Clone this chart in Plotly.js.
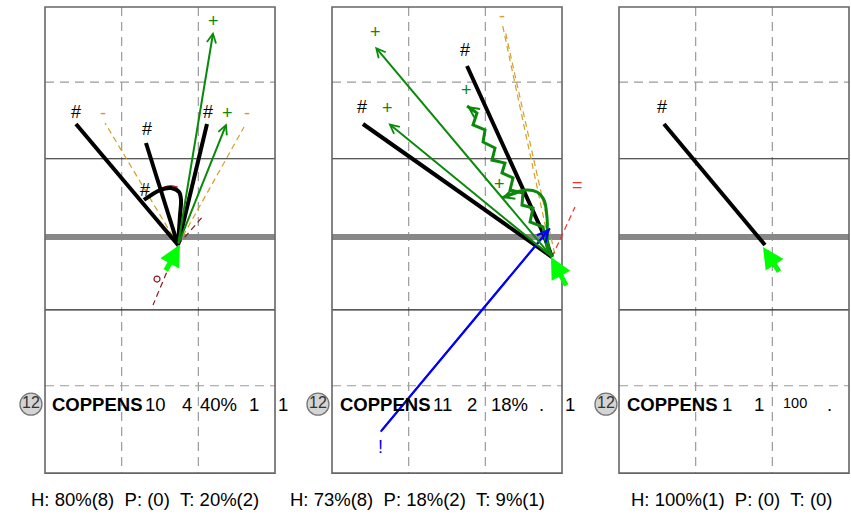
<!DOCTYPE html>
<html><head><meta charset="utf-8">
<script src="https://cdn.plot.ly/plotly-3.0.1.min.js"></script>
<style>html,body{margin:0;padding:0;background:#fff;}#chart{width:851px;height:528px;}</style>
</head><body><div id="chart"></div>
<script>
// ---------- DATA (panel-local units: frame is 30 wide, 10 units per column) ----------
const frameW = 30, frameH = 60.8;
const vDashed = [10, 20];
const hDashed = [9.8, 49.4];
const hSolid = [19.8, 39.5];
const halfway = 30;

// Panel 1
const p1ShotsX = [[17.35, 4.04], [17.35, 13.17], [17.35, 17.61, 17.74, 17.48, 16.43, 15.0, 12.91], [17.35, 21.13]];
const p1ShotsY = [[31.04, 15.26], [31.04, 17.74], [31.04, 27.13, 25.17, 24.13, 23.61, 23.87, 25.17], [31.04, 15.26]];
const p1PassX = [[17.35, 21.95], [17.35, 23.70]];
const p1PassY = [[31.04, 3.22], [31.04, 15.17]];
const p1GoldX = [[17.35, 7.83], [17.35, 25.96]];
const p1GoldY = [[31.04, 15.13], [31.04, 15.65]];
const p1DarkRedX = [[17.35, 14.09], [17.35, 20.74]];
const p1DarkRedY = [[31.04, 38.87], [31.04, 27.13]];
const p1RingX = [14.61];
const p1RingY = [35.48];
const p1RedX = [[15.3, 16.4, 17.3]];
const p1RedY = [[23.6, 23.3, 23.5]];
const p1CarryX = [15.65, 17.6];
const p1CarryY = [34.56, 31.0];
const p1LabelText = ['#', '#', '#', '#', '+', '+', '-', '-'];
const p1LabelX = [4.04, 13.26, 13.04, 21.26, 22.04, 23.83, 7.52, 26.39];
const p1LabelY = [13.69, 15.95, 23.87, 13.69, 1.79, 13.87, 13.78, 13.78];

// Panel 2
const p2ShotsX = [[28.69, 4.04], [28.69, 27.52, 17.61]];
const p2ShotsY = [[32.61, 15.26], [32.61, 29.48, 7.70]];
const p2PassX = [[28.69, 5.61], [28.69, 7.35]];
const p2PassY = [[32.61, 5.18], [32.61, 15.17]];
const p2WavyX = [28.69, 28.04, 27.52, 25.83, 26.22, 24.78, 24.91, 23.22, 23.61, 22.17, 22.56, 20.87, 21.26, 19.70, 19.96, 18.39, 18.91, 17.61];
const p2WavyY = [32.61, 31.30, 28.69, 28.04, 26.22, 25.83, 24.26, 23.87, 22.30, 21.65, 20.35, 19.96, 18.39, 17.61, 16.04, 15.39, 13.83, 12.91];
const p2HookX = [28.69, 28.17, 28.04, 27.65, 26.74, 25.17, 22.17];
const p2HookY = [32.61, 31.04, 27.39, 25.17, 24.13, 23.87, 24.91];
const p2GoldX = [[28.69, 22.25], [29.05, 22.65]];
const p2GoldY = [[32.61, 2.40], [32.20, 3.40]];
const p2RedX = [[28.69, 31.69]];
const p2RedY = [[32.61, 26.09]];
const p2BlueX = [6.35, 28.43];
const p2BlueY = [55.39, 28.87];
const p2CarryX = [30.65, 28.56];
const p2CarryY = [36.5, 32.6];
const p2LabelText = ['+', '#', '#', '+', '+', '+', '-', '=', '!'];
const p2LabelX = [5.61, 17.35, 3.87, 7.22, 17.48, 21.91, 22.21, 32.0, 6.39];
const p2LabelY = [3.3, 5.61, 13.08, 13.21, 10.83, 23.13, 1.13, 23.22, 57.35];

// Panel 3
const p3ShotsX = [[19.04, 5.87]];
const p3ShotsY = [[31.04, 15.26]];
const p3CarryX = [21.0, 18.78];
const p3CarryY = [34.7, 31.3];
const p3LabelText = ['#'];
const p3LabelX = [5.56];
const p3LabelY = [13.08];

// Stat rows
const playerNumber = '12';
const playerName = 'COPPENS';
const rowY = 51.8;
const badgeX = [-1.83, -1.83, -1.70];
const nameX = [0.65, 0.78, 0.78];
const p1RowText = ['10', '4', '40%', '1', '1'];
const p1RowX = [14.45, 18.52, 22.69, 27.26, 31.04];
const p2RowText = ['11', '2', '18%', '.', '1'];
const p2RowX = [14.45, 18.26, 23.09, 27.26, 31.04];
const p3RowText = ['1', '1', '100', '.'];
const p3RowX = [14.09, 18.26, 22.96, 27.39];
const p3RowSmall = [false, false, true, false];

const footerText = ['H: 80%(8)  P: (0)  T: 20%(2)', 'H: 73%(8)  P: 18%(2)  T: 9%(1)', 'H: 100%(1)  P: (0)  T: (0)'];
const footerX = [13.0, 11.2, 14.7];
const footerY = 64.2;

// ---------- STYLE / LAYOUT ----------
const K = 7.667;                 // pixels per unit
const frameLeftPx = [45, 332, 619];
const frameTopPx = 7;
const W = 851, H = 528;
const axes = ['x', 'x2', 'x3'];
const FONT = 'Liberation Sans, Arial, Helvetica, sans-serif';
const GREEN = '#0a8a0a', GOLD = '#d2a02a', RED = '#ff2a2a', DARKRED = '#8b1a1a', BLUE = '#0000ff', BRIGHT = '#00ff00';
const labelColor = {'#': '#000000', '+': GREEN, '-': GOLD, '=': RED, '!': BLUE};

const traces = [];
const shapes = [];
const annotations = [];

function addPaths(xs, ys, axis, line, shape) {
  xs.forEach((px, i) => traces.push({
    type: 'scatter', mode: 'lines', x: px, y: ys[i], xaxis: axis, yaxis: 'y',
    line: Object.assign({shape: shape || 'linear'}, line), hoverinfo: 'skip', showlegend: false
  }));
}
function arrow(axis, x0, y0, x1, y1, color, width, head, size) {
  annotations.push({xref: axis, yref: 'y', axref: axis, ayref: 'y', x: x1, y: y1, ax: x0, ay: y0,
    text: '', showarrow: true, arrowhead: head, arrowsize: size, arrowwidth: width, arrowcolor: color,
    standoff: 0, startstandoff: 0});
}
function label(axis, t, x, y, size, color, bold, xanchor) {
  annotations.push({xref: axis, yref: 'y', x: x, y: y, text: bold ? '<b>' + t + '</b>' : t, showarrow: false,
    xanchor: xanchor || 'center', yanchor: 'middle',
    font: {family: FONT, size: size, color: color}});
}
function line(axis, x0, y0, x1, y1, color, width, dash) {
  shapes.push({type: 'line', xref: axis, yref: 'y', x0, y0, x1, y1, layer: 'below',
    line: {color, width, dash: dash || 'solid'}});
}

// pitch frames
axes.forEach(ax => {
  vDashed.forEach(v => line(ax, v, 0, v, frameH, '#9a9a9a', 1.2, '9px,6px'));
  hDashed.forEach(h => line(ax, 0, h, frameW, h, '#9a9a9a', 1.2, '9px,6px'));
  hSolid.forEach(h => line(ax, 0, h, frameW, h, '#222', 1.1));
  line(ax, 0, halfway, frameW, halfway, '#888', 6);
  shapes.push({type: 'rect', xref: ax, yref: 'y', x0: 0, y0: 0, x1: frameW, y1: frameH, layer: 'below',
    line: {color: '#666', width: 1.6}});
});

const dashed = {dash: '6px,4px', width: 1.2};

// Panel 1
addPaths(p1GoldX, p1GoldY, 'x', Object.assign({color: GOLD}, dashed));
addPaths(p1DarkRedX, p1DarkRedY, 'x', Object.assign({color: DARKRED}, dashed));
addPaths(p1RedX, p1RedY, 'x', {color: '#cc2222', width: 1.5}, 'spline');
traces.push({type: 'scatter', mode: 'markers', x: p1RingX, y: p1RingY, xaxis: 'x', yaxis: 'y',
  marker: {symbol: 'circle-open', size: 6, color: DARKRED, line: {width: 1.2}}, hoverinfo: 'skip'});
addPaths(p1ShotsX, p1ShotsY, 'x', {color: '#000', width: 4}, 'spline');
p1PassX.forEach((px, i) => arrow('x', px[0], p1PassY[i][0], px[1], p1PassY[i][1], GREEN, 2, 5, 0.9));
p1LabelText.forEach((t, i) => label('x', t, p1LabelX[i], p1LabelY[i], 18, labelColor[t]));
arrow('x', p1CarryX[0], p1CarryY[0], p1CarryX[1], p1CarryY[1], BRIGHT, 5, 2, 0.85);

// Panel 2
addPaths(p2GoldX, p2GoldY, 'x2', Object.assign({color: GOLD}, dashed));
addPaths(p2RedX, p2RedY, 'x2', Object.assign({color: RED}, dashed));
addPaths(p2ShotsX, p2ShotsY, 'x2', {color: '#000', width: 4});
addPaths([p2WavyX], [p2WavyY], 'x2', {color: GREEN, width: 3});
addPaths([p2HookX], [p2HookY], 'x2', {color: GREEN, width: 3}, 'spline');
addPaths([p2BlueX], [p2BlueY], 'x2', {color: BLUE, width: 2});
let n = p2WavyX.length;
arrow('x2', p2WavyX[n - 2], p2WavyY[n - 2], p2WavyX[n - 1], p2WavyY[n - 1], GREEN, 2.5, 5, 0.8);
n = p2HookX.length;
arrow('x2', p2HookX[n - 2], p2HookY[n - 2], p2HookX[n - 1], p2HookY[n - 1], GREEN, 2.5, 5, 0.8);
arrow('x2', p2BlueX[0], p2BlueY[0], p2BlueX[1], p2BlueY[1], BLUE, 2, 5, 1.1);
p2PassX.forEach((px, i) => arrow('x2', px[0], p2PassY[i][0], px[1], p2PassY[i][1], GREEN, 2, 5, 0.9));
p2LabelText.forEach((t, i) => label('x2', t, p2LabelX[i], p2LabelY[i], 18, labelColor[t]));
arrow('x2', p2CarryX[0], p2CarryY[0], p2CarryX[1], p2CarryY[1], BRIGHT, 5, 2, 0.85);

// Panel 3
addPaths(p3ShotsX, p3ShotsY, 'x3', {color: '#000', width: 4});
p3LabelText.forEach((t, i) => label('x3', t, p3LabelX[i], p3LabelY[i], 18, labelColor[t]));
arrow('x3', p3CarryX[0], p3CarryY[0], p3CarryX[1], p3CarryY[1], BRIGHT, 5, 2, 0.85);

// stat rows
axes.forEach((ax, i) => {
  traces.push({type: 'scatter', mode: 'markers+text', x: [badgeX[i]], y: [rowY], xaxis: ax, yaxis: 'y',
    marker: {symbol: 'circle', size: 22, color: '#d4d4d4', line: {color: '#777', width: 1.3}},
    text: [playerNumber], textposition: 'middle center',
    textfont: {family: FONT, size: 16, color: '#333'}, hoverinfo: 'skip', cliponaxis: false});
  label(ax, playerName, nameX[i], rowY, 18.5, '#000', true, 'left');
  label(ax, footerText[i].replace(/ /g, '\u00a0'), footerX[i], footerY, 18.5, '#000');
});
p1RowText.forEach((t, i) => label('x', t, p1RowX[i], rowY, 18.5, '#000'));
p2RowText.forEach((t, i) => label('x2', t, p2RowX[i], rowY, 18.5, '#000'));
p3RowText.forEach((t, i) => label('x3', t, p3RowX[i], p3RowSmall[i] ? rowY - 0.2 : rowY, p3RowSmall[i] ? 14.5 : 18.5, '#000'));

function xr(i) { return [-frameLeftPx[i] / K, (W - frameLeftPx[i]) / K]; }
const yr = [(H - frameTopPx) / K, -frameTopPx / K];
const axBase = {visible: false, showgrid: false, zeroline: false, fixedrange: true, domain: [0, 1]};

const layout = {
  width: W, height: H, margin: {l: 0, r: 0, t: 0, b: 0, pad: 0},
  paper_bgcolor: '#ffffff', plot_bgcolor: 'rgba(0,0,0,0)', showlegend: false,
  xaxis: Object.assign({}, axBase, {range: xr(0)}),
  xaxis2: Object.assign({}, axBase, {range: xr(1), overlaying: 'x'}),
  xaxis3: Object.assign({}, axBase, {range: xr(2), overlaying: 'x'}),
  yaxis: Object.assign({}, axBase, {range: yr}),
  shapes: shapes, annotations: annotations,
  font: {family: FONT}
};
Plotly.newPlot('chart', traces, layout, {displayModeBar: false, staticPlot: true});
</script>
</body></html>
